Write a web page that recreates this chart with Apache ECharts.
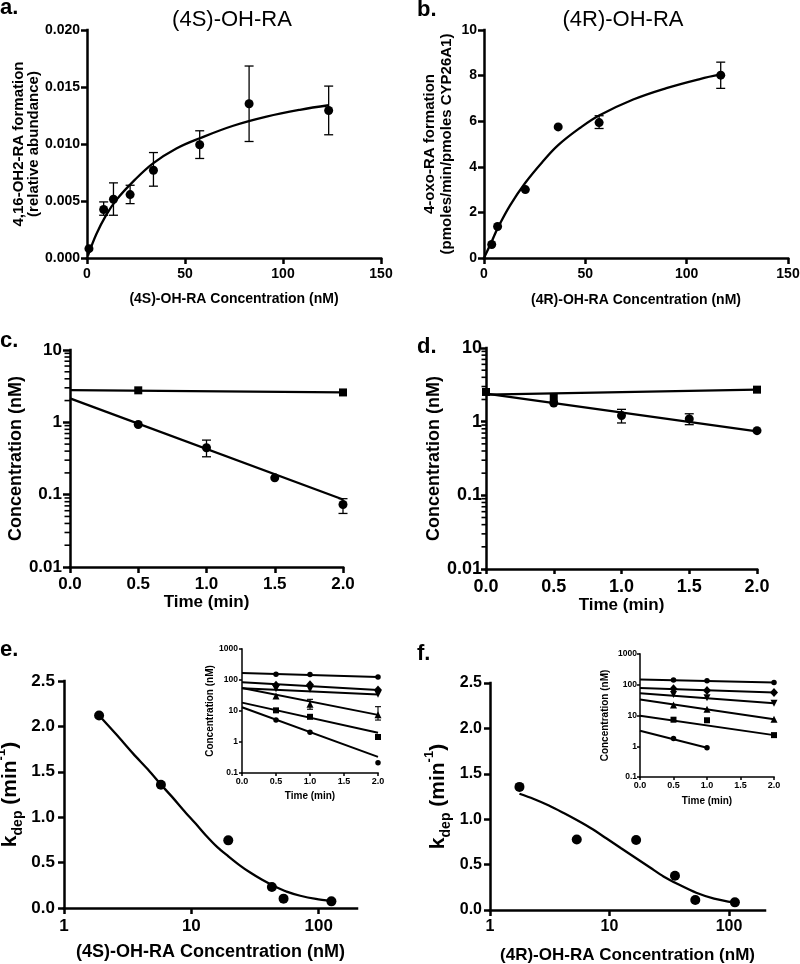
<!DOCTYPE html>
<html><head><meta charset="utf-8">
<script src="https://cdn.jsdelivr.net/npm/echarts@6/dist/echarts.min.js"></script>
<style>html,body{margin:0;padding:0;background:#fff}#c{width:800px;height:964px}</style>
</head><body><div id="c"></div>
<script>
const FONT = '"Liberation Sans", Arial, Helvetica, sans-serif';
const BLACK = '#000';

// ---------- Panel a: (4S)-OH-RA, 4,16-OH2-RA formation ----------
const aConc = [1.0, 8.5, 13.5, 22.0, 33.9, 57.5, 82.7, 123.3];
const aRate = [0.00082, 0.00425, 0.00515, 0.00556, 0.0077, 0.00993, 0.01353, 0.01294];
const aErrLow = [null, 0.00375, 0.00375, 0.00477, 0.0063, 0.00873, 0.01022, 0.01081];
const aErrHigh = [null, 0.00492, 0.00659, 0.00638, 0.00925, 0.01116, 0.01684, 0.01508];
const aFitX = [0.5, 4.8, 9.9, 15, 23.5, 33.7, 45.6, 57.5, 74.6, 91.6, 108.6, 123.3];
const aFitY = [0.0002, 0.0021, 0.0038, 0.0051, 0.0067, 0.0083, 0.0096, 0.0105, 0.0116, 0.0124, 0.0130, 0.0134];

// ---------- Panel b: (4R)-OH-RA, 4-oxo-RA formation ----------
const bConc = [3.8, 6.7, 20.4, 36.6, 56.8, 116.8];
const bRate = [0.59, 1.38, 3.0, 5.75, 5.94, 8.02];
const bErrLow = [null, null, null, null, 5.68, 7.44];
const bErrHigh = [null, null, null, null, 6.24, 8.59];
const bFitX = [0, 3.8, 6.7, 12.8, 20.4, 29.2, 36.6, 47.3, 56.8, 73.6, 90, 106.5, 116.8];
const bFitY = [0, 0.72, 1.3, 2.3, 3.3, 4.25, 4.95, 5.7, 6.25, 6.95, 7.45, 7.85, 8.05];

// ---------- Panel c: depletion (4S) ----------
const cSqTime = [0.5, 2.0];
const cSqConc = [2.77, 2.59];
const cSqFitX = [0, 2.0];
const cSqFitY = [2.79, 2.59];
const cCirTime = [0.5, 1.0, 1.5, 2.0];
const cCirConc = [0.935, 0.445, 0.171, 0.073];
const cCirErrLow = [null, 0.334, null, 0.055];
const cCirErrHigh = [null, 0.568, null, 0.088];
const cCirFitX = [0, 2.0];
const cCirFitY = [2.14, 0.0857];

// ---------- Panel d: depletion (4R) ----------
const dSqTime = [0, 0.5, 2.0];
const dSqConc = [2.53, 2.10, 2.72];
const dSqFitX = [0, 2.0];
const dSqFitY = [2.33, 2.72];
const dCirTime = [0.5, 1.0, 1.5, 2.0];
const dCirConc = [1.79, 1.21, 1.09, 0.755];
const dCirErrLow = [null, 0.96, 0.91, null];
const dCirErrHigh = [null, 1.47, 1.28, null];
const dCirFitX = [0, 2.0];
const dCirFitY = [2.40, 0.74];

// ---------- Panel e: kdep vs (4S) ----------
const eConc = [1.886, 5.77, 19.5, 42.9, 53.0, 125.9];
const eKdep = [2.12, 1.358, 0.745, 0.231, 0.103, 0.073];
const eFitX = [1.886, 2.58, 3.49, 4.6, 5.77, 7.2, 8.65, 10.8, 13.2, 16.0, 19.5, 24.0, 29.0, 36.0, 44.2, 56.0, 71.7, 95.0, 125.9];
const eFitY = [2.12, 1.91, 1.70, 1.52, 1.36, 1.21, 1.08, 0.93, 0.79, 0.67, 0.57, 0.47, 0.39, 0.31, 0.245, 0.18, 0.135, 0.10, 0.078];

// ---------- Panel f: kdep vs (4R) ----------
const fConc = [1.764, 5.32, 16.7, 35.3, 52.2, 112];
const fKdep = [1.356, 0.777, 0.77, 0.378, 0.11, 0.084];
const fFitX = [1.764, 2.3, 3.11, 4.1, 5.32, 7.0, 9.39, 12.5, 16.7, 22.0, 28.3, 38.0, 53.2, 75.0, 112];
const fFitY = [1.28, 1.225, 1.15, 1.07, 0.99, 0.90, 0.79, 0.68, 0.57, 0.465, 0.37, 0.28, 0.19, 0.125, 0.08];

// ---------- Insets (time courses) ----------
const insTime = [0.5, 1.0, 2.0];
const insFitT = [0, 2.0];
// inset e
const ie1 = [154, 150, 124];   const ie1Fit = [167, 126];
const ie2 = [68, 70, 48];      const ie2Fit = [85, 48];
const ie3 = [52, 50, 35];      const ie3Fit = [54, 34];
const ie4 = [30.6, 16.5, 7.6]; const ie4Fit = [55, 7.5];
const ie4ErrLow = [null, 11.4, 5.1];
const ie4ErrHigh = [null, 23.8, 13.8];
const ie5 = [10.5, 6.5, 1.45]; const ie5Fit = [18.6, 2.0];
const ie6 = [5.1, 2.08, 0.215]; const ie6Fit = [13.2, 0.33];
// inset f
const if1 = [143, 136, 118];   const if1Fit = [149, 118];
const if2 = [74, 64.5, 55.5];  const if2Fit = [78, 55.5];
const if3 = [48, 37.5, 24.8];  const if3Fit = [53, 24.8];
const if4 = [22, 16, 7.6];     const if4Fit = [33, 7.6];
const if5 = [7.3, 7.0, 2.3];   const if5Fit = [9.8, 2.3];
const if6Time = [0.5, 1.0];    const if6 = [1.78, 0.9];
const if6FitT = [0, 1.0];      const if6Fit = [3.19, 0.9];

// tick values
const logMinorCD = [0.02,0.03,0.04,0.05,0.06,0.07,0.08,0.09,0.2,0.3,0.4,0.5,0.6,0.7,0.8,0.9,2,3,4,5,6,7,8,9];
const kdepXTicks = [1, 10, 100];

// ---------- helpers ----------
const pts = (xs, ys) => xs.map((x, i) => [x, ys[i]]);
const fmtLog = v => String(+(+v).toPrecision(3));

function mkAxis(o) {
  const ax = {
    gridIndex: o.g, type: o.type || 'value', min: o.min, max: o.max,
    axisLine: {show: true, onZero: false, lineStyle: {color: BLACK, width: o.lw, cap: 'square'}},
    axisTick: {show: true, inside: false, length: o.tickLen, lineStyle: {color: BLACK, width: o.lw}},
    splitLine: {show: false},
    minorTick: {show: false},
    axisLabel: {color: BLACK, fontFamily: FONT, fontWeight: 'bold', fontSize: o.fs, margin: o.margin,
      formatter: o.fmt, showMinLabel: true, showMaxLabel: true, hideOverlap: false},
    name: o.name, nameLocation: 'middle', nameGap: o.nameGap,
    nameTextStyle: {color: BLACK, fontFamily: FONT, fontWeight: 'bold', fontSize: o.nameSize,
      lineHeight: o.lineHeight, rich: o.rich}
  };
  if (o.type === 'log') ax.logBase = 10;
  if (o.interval != null) ax.interval = o.interval;
  if (o.custom) { ax.axisTick.customValues = o.custom; ax.axisLabel.customValues = o.custom; }
  return ax;
}
function lineS(i, xs, ys, w, smooth) {
  return {type: 'line', xAxisIndex: i, yAxisIndex: i, data: pts(xs, ys), showSymbol: false, symbol: 'none',
    smooth: smooth || false, lineStyle: {color: BLACK, width: w}, z: 2, silent: true};
}
function scatS(i, xs, ys, symbol, size, rot) {
  return {type: 'scatter', xAxisIndex: i, yAxisIndex: i, data: pts(xs, ys), symbol: symbol,
    symbolSize: size, symbolRotate: rot || 0, itemStyle: {color: BLACK, opacity: 1}, z: 3, silent: true};
}
function errS(i, xs, lo, hi, cap, lw) {
  const data = [];
  xs.forEach((x, k) => { if (lo[k] != null) data.push([x, lo[k], hi[k]]); });
  return {
    type: 'custom', xAxisIndex: i, yAxisIndex: i, z: 4, silent: true, clip: false,
    encode: {x: 0, y: [1, 2]}, data: data,
    renderItem: function (params, api) {
      const x = api.value(0);
      const p1 = api.coord([x, api.value(1)]);
      const p2 = api.coord([x, api.value(2)]);
      const st = {stroke: BLACK, lineWidth: lw, fill: null};
      return {type: 'group', children: [
        {type: 'line', shape: {x1: p1[0], y1: p1[1], x2: p2[0], y2: p2[1]}, style: st},
        {type: 'line', shape: {x1: p1[0] - cap, y1: p1[1], x2: p1[0] + cap, y2: p1[1]}, style: st},
        {type: 'line', shape: {x1: p2[0] - cap, y1: p2[1], x2: p2[0] + cap, y2: p2[1]}, style: st}
      ]};
    }
  };
}
function txt(text, x, y, size, weight, align) {
  return {type: 'text', x: x, y: y, silent: true,
    style: {text: text, fill: BLACK, font: (weight || 'bold') + ' ' + size + 'px ' + FONT,
      textAlign: align || 'left', textVerticalAlign: 'middle', align: align || 'left', verticalAlign: 'middle'}};
}

const kRich = {
  m: {fontSize: 21, fontWeight: 'bold', fontFamily: FONT, color: BLACK, lineHeight: 30, verticalAlign: 'middle'},
  sub: {fontSize: 14, fontWeight: 'bold', fontFamily: FONT, color: BLACK, lineHeight: 14, verticalAlign: 'bottom'},
  sup: {fontSize: 13, fontWeight: 'bold', fontFamily: FONT, color: BLACK, lineHeight: 13, verticalAlign: 'top'}
};

const grids = [
  {left: 87, top: 30, width: 294, height: 228},   // a
  {left: 484, top: 30, width: 304, height: 228},  // b
  {left: 70, top: 350, width: 273, height: 217},  // c
  {left: 486, top: 348, width: 271, height: 221}, // d
  {left: 64, top: 681, width: 293, height: 227},  // e
  {left: 490, top: 683, width: 275, height: 227}, // f
  {left: 242, top: 649, width: 136, height: 124}, // inset e
  {left: 640, top: 654, width: 134, height: 123}  // inset f
].map(g => Object.assign({containLabel: false, outerBoundsMode: 'none'}, g));

const xAxes = [
  mkAxis({g: 0, min: 0, max: 150, interval: 50, lw: 2.5, tickLen: 6, fs: 14, margin: 9,
    name: '(4S)-OH-RA Concentration (nM)', nameGap: 34, nameSize: 14}),
  mkAxis({g: 1, min: 0, max: 150, interval: 50, lw: 2.5, tickLen: 6, fs: 14, margin: 9,
    name: '(4R)-OH-RA Concentration (nM)', nameGap: 35, nameSize: 14}),
  mkAxis({g: 2, min: 0, max: 2, interval: 0.5, lw: 2.5, tickLen: 6, fs: 17, margin: 9,
    fmt: v => (+v).toFixed(1), name: 'Time (min)', nameGap: 25, nameSize: 17}),
  mkAxis({g: 3, min: 0, max: 2, interval: 0.5, lw: 2.5, tickLen: 5, fs: 18, margin: 9,
    fmt: v => (+v).toFixed(1), name: 'Time (min)', nameGap: 25, nameSize: 17}),
  mkAxis({g: 4, type: 'log', min: 1, max: 200, custom: kdepXTicks, lw: 2.5, tickLen: 6, fs: 17, margin: 10,
    fmt: fmtLog, name: '(4S)-OH-RA Concentration (nM)', nameGap: 35, nameSize: 18}),
  mkAxis({g: 5, type: 'log', min: 1, max: 200, custom: kdepXTicks, lw: 2.5, tickLen: 6, fs: 16, margin: 9,
    fmt: fmtLog, name: '(4R)-OH-RA Concentration (nM)', nameGap: 37, nameSize: 17}),
  mkAxis({g: 6, min: 0, max: 2, interval: 0.5, lw: 1.5, tickLen: 3, fs: 9, margin: 4,
    fmt: v => (+v).toFixed(1), name: 'Time (min)', nameGap: 18, nameSize: 10}),
  mkAxis({g: 7, min: 0, max: 2, interval: 0.5, lw: 1.5, tickLen: 3, fs: 9, margin: 4,
    fmt: v => (+v).toFixed(1), name: 'Time (min)', nameGap: 19, nameSize: 10})
];
const yAxes = [
  mkAxis({g: 0, min: 0, max: 0.02, interval: 0.005, lw: 2.5, tickLen: 6, fs: 14, margin: 7,
    fmt: v => (+v).toFixed(3), name: '4,16-OH2-RA formation\n(relative abundance)', nameGap: 44, nameSize: 15, lineHeight: 15}),
  mkAxis({g: 1, min: 0, max: 10, interval: 2, lw: 2.5, tickLen: 6, fs: 14, margin: 7,
    name: '4-oxo-RA formation\n(pmoles/min/pmoles CYP26A1)', nameGap: 29, nameSize: 15, lineHeight: 17}),
  mkAxis({g: 2, type: 'log', min: 0.01, max: 10, lw: 2.5, tickLen: 7, fs: 17, margin: 8,
    fmt: fmtLog, name: 'Concentration (nM)', nameGap: 44, nameSize: 18}),
  mkAxis({g: 3, type: 'log', min: 0.01, max: 10, lw: 2.5, tickLen: 5, fs: 18, margin: 4,
    fmt: fmtLog, name: 'Concentration (nM)', nameGap: 41, nameSize: 18}),
  mkAxis({g: 4, min: 0, max: 2.5, interval: 0.5, lw: 2.5, tickLen: 6, fs: 17, margin: 9,
    fmt: v => (+v).toFixed(1), name: '{m|k}{sub|dep}{m| (min}{sup|-1}{m|)}', nameGap: 39, nameSize: 21, rich: kRich}),
  mkAxis({g: 5, min: 0, max: 2.5, interval: 0.5, lw: 2.5, tickLen: 6, fs: 16, margin: 8,
    fmt: v => (+v).toFixed(1), name: '{m|k}{sub|dep}{m| (min}{sup|-1}{m|)}', nameGap: 37, nameSize: 21, rich: kRich}),
  mkAxis({g: 6, type: 'log', min: 0.1, max: 1000, lw: 1.5, tickLen: 3, fs: 8.5, margin: 4,
    fmt: fmtLog, name: 'Concentration (nM)', nameGap: 27, nameSize: 10}),
  mkAxis({g: 7, type: 'log', min: 0.1, max: 1000, lw: 1.5, tickLen: 3, fs: 8.5, margin: 3,
    fmt: fmtLog, name: 'Concentration (nM)', nameGap: 30, nameSize: 10})
];

const series = [
  // a
  lineS(0, aFitX, aFitY, 2.3, 0.4),
  errS(0, aConc, aErrLow, aErrHigh, 4.5, 1.3),
  scatS(0, aConc, aRate, 'circle', 9),
  // b
  lineS(1, bFitX, bFitY, 2.3, 0.4),
  errS(1, bConc, bErrLow, bErrHigh, 4.5, 1.3),
  scatS(1, bConc, bRate, 'circle', 9),
  // c
  lineS(2, cSqFitX, cSqFitY, 2.3),
  lineS(2, cCirFitX, cCirFitY, 2.3),
  errS(2, cCirTime, cCirErrLow, cCirErrHigh, 4.5, 1.3),
  scatS(2, cSqTime, cSqConc, 'rect', 8),
  scatS(2, cCirTime, cCirConc, 'circle', 9),
  // d
  lineS(3, dSqFitX, dSqFitY, 2.3),
  lineS(3, dCirFitX, dCirFitY, 2.3),
  errS(3, dCirTime, dCirErrLow, dCirErrHigh, 4.5, 1.3),
  scatS(3, dSqTime, dSqConc, 'rect', 8),
  scatS(3, dCirTime, dCirConc, 'circle', 9),
  // e
  lineS(4, eFitX, eFitY, 2.3, 0.3),
  scatS(4, eConc, eKdep, 'circle', 10),
  // f
  lineS(5, fFitX, fFitY, 2.3, 0.3),
  scatS(5, fConc, fKdep, 'circle', 10),
  // inset e
  lineS(6, insFitT, ie1Fit, 2), scatS(6, insTime, ie1, 'circle', 5.5),
  lineS(6, insFitT, ie2Fit, 2), scatS(6, insTime, ie2, 'diamond', [8, 9]),
  lineS(6, insFitT, ie3Fit, 2), scatS(6, insTime, ie3, 'triangle', 7, 180),
  lineS(6, insFitT, ie4Fit, 2), scatS(6, insTime, ie4, 'triangle', 7),
  errS(6, insTime, ie4ErrLow, ie4ErrHigh, 3, 1.1),
  lineS(6, insFitT, ie5Fit, 2), scatS(6, insTime, ie5, 'rect', 6),
  lineS(6, insFitT, ie6Fit, 2), scatS(6, insTime, ie6, 'circle', 5.5),
  // inset f
  lineS(7, insFitT, if1Fit, 2), scatS(7, insTime, if1, 'circle', 5.5),
  lineS(7, insFitT, if2Fit, 2), scatS(7, insTime, if2, 'diamond', [8, 9]),
  lineS(7, insFitT, if3Fit, 2), scatS(7, insTime, if3, 'triangle', 7, 180),
  lineS(7, insFitT, if4Fit, 2), scatS(7, insTime, if4, 'triangle', 7),
  lineS(7, insFitT, if5Fit, 2), scatS(7, insTime, if5, 'rect', 6),
  lineS(7, if6FitT, if6Fit, 2), scatS(7, if6Time, if6, 'circle', 5.5)
];

const labels = [
  txt('a.', 0, 8, 22),
  txt('b.', 417, 10, 22),
  txt('c.', 0, 341, 22),
  txt('d.', 417, 347, 22),
  txt('e.', 0, 650, 22),
  txt('f.', 417, 654, 22),
  txt('(4S)-OH-RA', 232, 20, 22, 'normal', 'center'),
  txt('(4R)-OH-RA', 623, 20, 22, 'normal', 'center')
];

const chart = echarts.init(document.getElementById('c'), null, {renderer: 'canvas'});
chart.setOption({
  animation: false,
  backgroundColor: '#fff',
  grid: grids,
  xAxis: xAxes,
  yAxis: yAxes,
  series: series,
  graphic: labels
});

// minor ticks (2..9 x 10^k) of the log axes in c and d, positioned through the axis scales
const minorTicks = [];
[[2, 5.5], [3, 4.5]].forEach(([gi, len]) => {
  logMinorCD.forEach(v => {
    const p = chart.convertToPixel({xAxisIndex: gi, yAxisIndex: gi}, [0, v]);
    if (p && isFinite(p[0]) && isFinite(p[1])) {
      minorTicks.push({type: 'line', silent: true, z: 10,
        shape: {x1: p[0] - len, y1: p[1], x2: p[0], y2: p[1]},
        style: {stroke: BLACK, lineWidth: 1.6}});
    }
  });
});
chart.setOption({graphic: labels.concat(minorTicks)});
</script></body></html>
